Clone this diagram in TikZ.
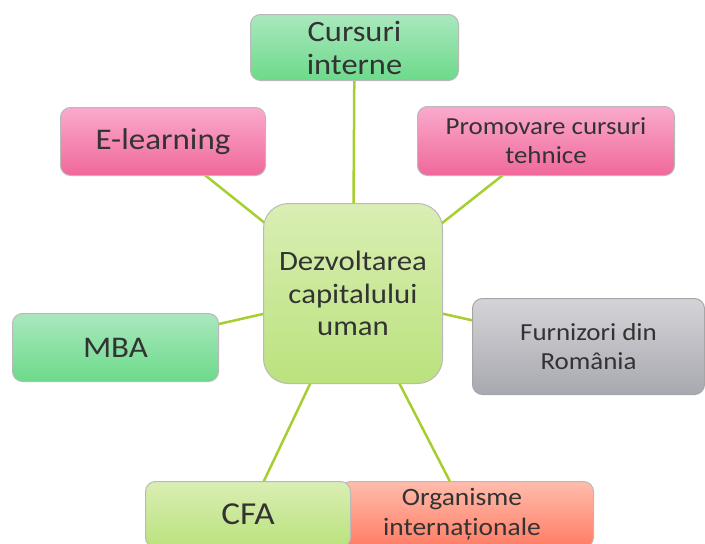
\documentclass[tikz,border=0pt]{standalone}
\usepackage{fontspec}
\setmainfont[FakeStretch=1.1]{Carlito}
\usetikzlibrary{backgrounds}
\definecolor{txt}{HTML}{333333}
\definecolor{link}{HTML}{A4CF2E}
\tikzset{
  x=1pt,y=-1pt,
  box/.style={draw=#1, line width=1pt, rounded corners=10pt, align=center, text=txt, inner sep=0pt, anchor=north west},
  gbx/.style={box=gray!55, top color={rgb,255:red,170;green,232;blue,190}, bottom color={rgb,255:red,108;green,218;blue,138}},
  pinkbx/.style={box=gray!55, top color={rgb,255:red,250;green,170;blue,205}, bottom color={rgb,255:red,240;green,104;blue,154}},
  limebx/.style={box=gray!55, top color={rgb,255:red,218;green,238;blue,180}, bottom color={rgb,255:red,186;green,226;blue,125}},
  graybx/.style={box=gray!70, top color={rgb,255:red,212;green,212;blue,216}, bottom color={rgb,255:red,168;green,168;blue,176}},
  salmonbx/.style={box=gray!55, top color={rgb,255:red,255;green,188;blue,172}, bottom color={rgb,255:red,255;green,124;blue,100}},
  link/.style={draw=link, line width=2.5pt},
}
\begin{document}
\begin{tikzpicture}
\useasboundingbox (0,0) rectangle (705,544);
\node[gbx, minimum width=208pt, minimum height=66pt, font=\fontsize{29.5}{33}\selectfont] (ci) at (250,14) {Cursuri\\interne};
\node[pinkbx, minimum width=205pt, minimum height=68pt, font=\fontsize{30}{33}\selectfont] (el) at (60,107) {E-learning};
\node[pinkbx, minimum width=257pt, minimum height=69pt, font=\fontsize{24.5}{29}\selectfont] (pr) at (417,106) {Promovare cursuri\\tehnice};
\node[limebx, rounded corners=25pt, minimum width=179pt, minimum height=180pt, font=\fontsize{28}{32.5}\selectfont] (c) at (263,203) {Dezvoltarea\\capitalului\\uman};
\node[gbx, minimum width=206pt, minimum height=68pt, font=\fontsize{30}{33}\selectfont] (mba) at (12,313) {MBA};
\node[graybx, minimum width=232pt, minimum height=96pt, font=\fontsize{24.5}{29}\selectfont] (fu) at (472,298) {Furnizori din\\România};
\node[salmonbx, minimum width=253pt, minimum height=66pt, font=\fontsize{25}{30}\selectfont] (og) at (340,481) {\hspace*{-10pt}Organisme\\\hspace*{-10pt}internaționale};
\node[limebx, minimum width=205pt, minimum height=66pt, font=\fontsize{32}{33}\selectfont] (cfa) at (145,481) {CFA};
\begin{scope}[on background layer]
\foreach \n in {ci,el,pr,mba,fu,cfa,og} \draw[link] (c.center) -- (\n.center);
\end{scope}
\end{tikzpicture}
\end{document}
